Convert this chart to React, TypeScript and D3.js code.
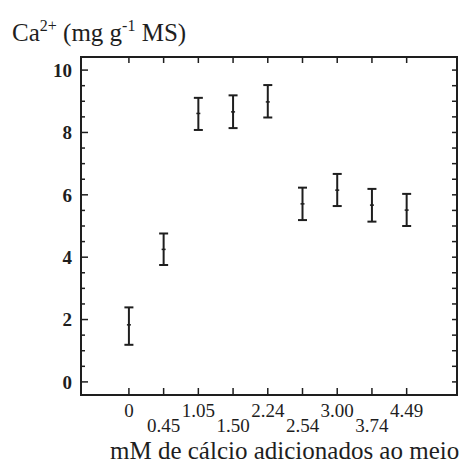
import React from "react";
import * as d3 from "d3";

const categories = ["0", "0.45", "1.05", "1.50", "2.24", "2.54", "3.00", "3.74", "4.49"];
const means = [1.83, 4.25, 8.61, 8.66, 8.98, 5.71, 6.15, 5.67, 5.51];
const upper = [2.39, 4.76, 9.11, 9.19, 9.52, 6.23, 6.67, 6.19, 6.03];
const lower = [1.19, 3.75, 8.08, 8.14, 8.48, 5.19, 5.64, 5.14, 5.0];
const yMajorTicks = [0, 2, 4, 6, 8, 10];

const W = 469;
const H = 465;
const FONT = "serif";
const INK = "#1e1e1e";
const txt = { fontFamily: FONT };

export default function App() {
  const x = d3.scaleLinear().domain([-1.38, 9.45]).range([81, 457]);
  const y = d3.scaleLinear().domain([-0.42, 10.42]).range([395, 57]);
  const minor = d3.range(0, 10.01, 0.5);
  const [x0, x1] = x.range();
  const [yb, yt] = y.range();

  return (
    <svg
      width={W}
      height={H}
      style={{ position: "absolute", left: 0, top: 0, background: "#fff", fontFamily: FONT }}
    >
      <rect x={x0} y={yt} width={x1 - x0} height={yb - yt} fill="none" stroke={INK} strokeWidth={2} />

      {minor.map((v) => {
        const major = Math.abs(v % 2) < 1e-6;
        return (
          <line key={"l" + v} x1={x0} x2={x0 + (major ? 7 : 4)} y1={y(v)} y2={y(v)} stroke={INK} strokeWidth={1.5} />
        );
      })}
      {minor.map((v) => (
        <line key={"r" + v} x1={x1} x2={x1 - 5} y1={y(v)} y2={y(v)} stroke={INK} strokeWidth={1.5} />
      ))}
      {yMajorTicks.map((v) => (
        <text
          key={"yl" + v}
          x={72}
          y={y(v)}
          dy="0.36em"
          textAnchor="end"
          fontSize={19}
          fontWeight="bold"
          fill={INK}
          style={txt}
        >
          {v}
        </text>
      ))}

      {categories.map((c, i) => (
        <g key={"xt" + c}>
          <line x1={x(i)} x2={x(i)} y1={yb} y2={yb - 7} stroke={INK} strokeWidth={1.5} />
          <line x1={x(i)} x2={x(i)} y1={yt} y2={yt + 6} stroke={INK} strokeWidth={1.5} />
          <text
            x={x(i)}
            y={i % 2 === 0 ? 417 : 432}
            textAnchor="middle"
            fontSize={19}
            fill={INK}
            style={txt}
          >
            {c}
          </text>
        </g>
      ))}

      {categories.map((c, i) => (
        <g key={"eb" + c} stroke={INK} strokeWidth={2}>
          <line x1={x(i)} x2={x(i)} y1={y(upper[i])} y2={y(lower[i])} />
          <line x1={x(i) - 4.5} x2={x(i) + 4.5} y1={y(upper[i])} y2={y(upper[i])} />
          <line x1={x(i) - 4.5} x2={x(i) + 4.5} y1={y(lower[i])} y2={y(lower[i])} />
          <line x1={x(i) - 2} x2={x(i) + 2} y1={y(means[i])} y2={y(means[i])} strokeWidth={1.5} />
        </g>
      ))}

      <text x={12} y={41} fontSize={25} fill={INK} style={txt}>
        Ca
        <tspan fontSize={16} dy={-10}>2+</tspan>
        <tspan dy={10}> (mg g</tspan>
        <tspan fontSize={16} dy={-10}>-1</tspan>
        <tspan dy={10}> MS)</tspan>
      </text>

      <text x={110} y={459} fontSize={25} fill={INK} style={txt}>
        mM de cálcio adicionados ao meio
      </text>
    </svg>
  );
}
